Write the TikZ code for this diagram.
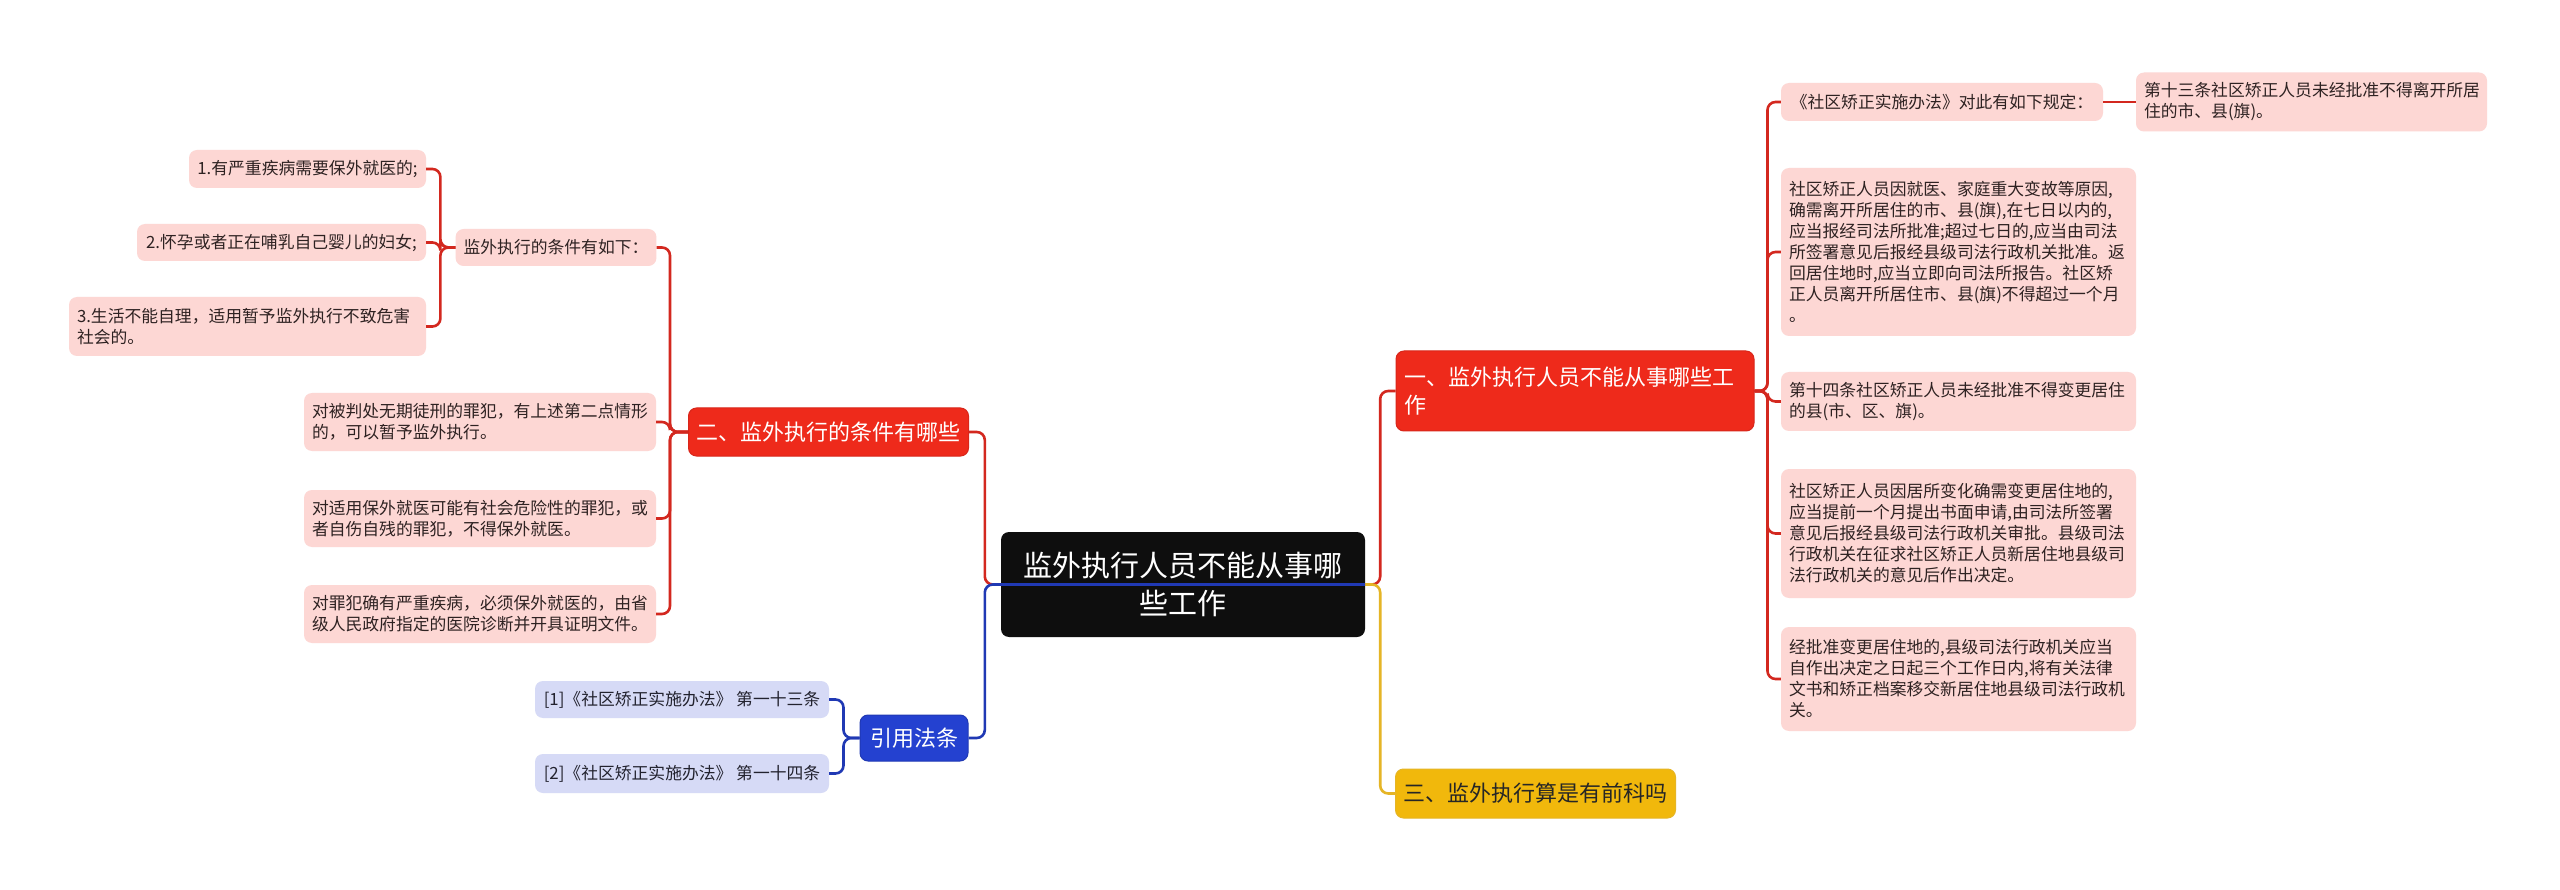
\documentclass[tikz,border=0pt]{standalone}
\usepackage{fontspec}
\setmainfont{Noto Sans CJK SC}
\definecolor{cred}{HTML}{EE2A1B}
\definecolor{credb}{HTML}{D8261A}
\definecolor{credline}{HTML}{D3281F}
\definecolor{cpink}{HTML}{FDD7D4}
\definecolor{ctext}{HTML}{2E2222}
\definecolor{cblue}{HTML}{2441D0}
\definecolor{cblueline}{HTML}{2039B4}
\definecolor{clav}{HTML}{D6DAF6}
\definecolor{cbtext}{HTML}{22222E}
\definecolor{cyel}{HTML}{F1B80C}
\definecolor{cyelline}{HTML}{E5B526}
\definecolor{croot}{HTML}{0E0E0E}
\tikzset{
  sz/.code 2 args={\pgfmathsetmacro\boxtw{#1-16}\edef\boxtmp{\noexpand\tikzset{minimum width=#1pt,minimum height=#2pt,text width=\boxtw pt}}\boxtmp},
  sw/.style 2 args={minimum width=#1,minimum height=#2},
  base/.style={rounded corners=8, inner xsep=8, inner ysep=0, align=left, anchor=center},
  leafR/.style={base, fill=cpink, text=ctext, font=\fontsize{16.8}{21}\selectfont},
  leafB/.style={base, fill=clav, text=cbtext, font=\fontsize{16.8}{21}\selectfont},
  mainR/.style={base, fill=cred, draw=credb, line width=1, text=white, font=\fontsize{22}{28}\selectfont},
  mainB/.style={base, fill=cblue, draw=cblueline, line width=1, text=white, align=center, font=\fontsize{22}{28}\selectfont},
  mainY/.style={base, fill=cyel, draw=cyelline, line width=1, text=black!85, font=\fontsize{22}{28}\selectfont},
  rootbox/.style={base, fill=croot, text=white, align=center, font=\fontsize{29}{38}\selectfont},
  conR/.style={draw=credline, line width=2.6, rounded corners=8},
  conB/.style={draw=cblueline, line width=2.6, rounded corners=8},
  conY/.style={draw=cyelline, line width=2.6, rounded corners=8},
}
\begin{document}
\begin{tikzpicture}[x=1pt,y=-1pt]
\useasboundingbox[fill=white] (0,0) rectangle (2560,890);
% root
\node[rootbox, sz={364}{105}] (root) at (1183,584.5) {监外执行人员不能从事哪\\些工作};
% left main
\node[mainR, sw={279}{48}] (er) at (828.5,432) {二、监外执行的条件有哪些};
\node[mainB, sw={108}{46}] (yy) at (914,738) {引用法条};
% right main
\node[mainR, sz={358}{80}] (yi) at (1575,391) {一、监外执行人员不能从事哪些工\\作};
\node[mainY, sw={279}{49}] (san) at (1535.5,793.5) {三、监外执行算是有前科吗};
% left leaves
\node[leafR, sw={200}{37}] (cond) at (556,247.5) {监外执行的条件有如下：};
\node[leafR, sw={237}{38}] (l1) at (307.5,169) {1.有严重疾病需要保外就医的;};
\node[leafR, sw={289}{37}] (l2) at (281.5,242.5) {2.怀孕或者正在哺乳自己婴儿的妇女;};
\node[leafR, sz={357}{59}] (l3) at (247.5,326.5) {3.生活不能自理，适用暂予监外执行不致危害\\社会的。};
\node[leafR, sz={352}{58}] (e1) at (480,422) {对被判处无期徒刑的罪犯，有上述第二点情形\\的，可以暂予监外执行。};
\node[leafR, sz={352}{57}] (e2) at (480,518.5) {对适用保外就医可能有社会危险性的罪犯，或\\者自伤自残的罪犯，不得保外就医。};
\node[leafR, sz={352}{58}] (e3) at (480,614) {对罪犯确有严重疾病，必须保外就医的，由省\\级人民政府指定的医院诊断并开具证明文件。};
\node[leafB, sw={294}{37}] (y1) at (682,699.5) {[1]《社区矫正实施办法》 第一十三条};
\node[leafB, sw={294}{39}] (y2) at (682,773.5) {[2]《社区矫正实施办法》 第一十四条};
% right leaves
\node[leafR, sw={322}{38}] (r1) at (1942,102) {《社区矫正实施办法》对此有如下规定：};
\node[leafR, sz={351}{59}] (r1a) at (2311.5,102) {第十三条社区矫正人员未经批准不得离开所居\\住的市、县(旗)。};
\node[leafR, sz={355}{168}] (r2) at (1958.5,252) {社区矫正人员因就医、家庭重大变故等原因,\\确需离开所居住的市、县(旗),在七日以内的,\\应当报经司法所批准;超过七日的,应当由司法\\所签署意见后报经县级司法行政机关批准。返\\回居住地时,应当立即向司法所报告。社区矫\\正人员离开所居住市、县(旗)不得超过一个月\\。};
\node[leafR, sz={355}{59}] (r3) at (1958.5,401.5) {第十四条社区矫正人员未经批准不得变更居住\\的县(市、区、旗)。};
\node[leafR, sz={355}{129}] (r4) at (1958.5,533.5) {社区矫正人员因居所变化确需变更居住地的,\\应当提前一个月提出书面申请,由司法所签署\\意见后报经县级司法行政机关审批。县级司法\\行政机关在征求社区矫正人员新居住地县级司\\法行政机关的意见后作出决定。};
\node[leafR, sz={355}{104}] (r5) at (1958.5,679) {经批准变更居住地的,县级司法行政机关应当\\自作出决定之日起三个工作日内,将有关法律\\文书和矫正档案移交新居住地县级司法行政机\\关。};
% connectors from root
\draw[conR] (root.west) -- ++(-16,0) |- (er.east);
\draw[conR] (root.east) -- ++(15,0) |- (yi.west);
\draw[conY] (root.east) -- ++(15,0) |- (san.west);
\draw[conB] (root.east) -- (root.west) -- ++(-16,0) |- (yy.east);
% er children
\foreach \c in {cond,e1,e2,e3} \draw[conR] (er.west) -- ++(-18,0) |- (\c.east);
\foreach \c in {l1,l2,l3} \draw[conR] (cond.west) -- ++(-15,0) |- (\c.east);
% yy children
\foreach \c in {y1,y2} \draw[conB] (yy.west) -- ++(-16,0) |- (\c.east);
% yi children
\foreach \c in {r1,r2,r3,r4,r5} \draw[conR] (yi.east) -- ++(13,0) |- (\c.west);
\draw[conR] (r1.east) -- (r1a.west);
\end{tikzpicture}
\end{document}
